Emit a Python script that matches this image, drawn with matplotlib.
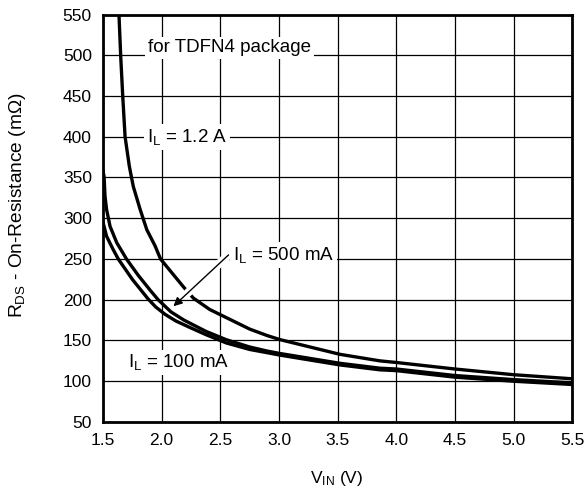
import matplotlib
matplotlib.use("Agg")
import matplotlib.pyplot as plt

plt.rcParams['font.family'] = ['Liberation Sans', 'DejaVu Sans']
plt.rcParams['mathtext.default'] = 'regular'

# V_IN (V) vs R_DS (mOhm)
v_1200ma = [1.633, 1.651, 1.668, 1.688, 1.724, 1.758, 1.816, 1.873, 1.944, 1.99, 2.07, 2.19,
            2.27, 2.41, 2.58, 2.75, 2.90, 3.01, 3.18, 3.35, 3.52, 3.69, 3.86, 4.0, 4.5, 5.0, 5.5]
r_1200ma = [560, 498, 450, 400, 364, 339, 311, 286, 266, 250, 236, 215,
            202, 188, 176, 164, 156, 151, 145, 139, 133, 129, 125, 123, 115, 108, 103]

v_500ma = [1.5, 1.509, 1.517, 1.53, 1.56, 1.617, 1.70, 1.80, 1.90, 1.97, 2.08, 2.19, 2.38,
           2.55, 2.75, 2.90, 3.01, 3.18, 3.35, 3.52, 3.69, 3.86, 4.0, 4.5, 5.0, 5.5]
r_500ma = [358, 351, 327, 311, 290, 270, 250, 230, 212, 200, 185, 175, 161,
           151, 142, 137, 134, 130, 126, 122, 119, 116, 115, 107, 102, 98]

v_100ma = [1.5, 1.53, 1.585, 1.63, 1.75, 1.884, 1.95, 2.03, 2.12, 2.24, 2.38, 2.55, 2.75,
           2.90, 3.01, 3.18, 3.35, 3.52, 3.69, 3.86, 4.0, 4.5, 5.0, 5.5]
r_100ma = [295, 278, 262, 250, 225, 201, 191, 182, 174, 166, 157, 147, 139,
           135, 132, 128, 124, 120, 117, 114, 113, 105, 100, 96]

x_ticks = [1.5, 2.0, 2.5, 3.0, 3.5, 4.0, 4.5, 5.0, 5.5]
y_ticks = [50, 100, 150, 200, 250, 300, 350, 400, 450, 500, 550]

fig = plt.figure(figsize=(5.87, 4.95), dpi=100)
ax = fig.add_axes([0.1755, 0.1475, 0.7995, 0.8232])

for v, r in ((v_1200ma, r_1200ma), (v_500ma, r_500ma), (v_100ma, r_100ma)):
    ax.plot(v, r, color='black', lw=2.4, zorder=3, solid_joinstyle='round')

ax.set_xlim(1.5, 5.5)
ax.set_ylim(50, 550)
ax.set_xticks(x_ticks)
ax.set_xticklabels(['%.1f' % t for t in x_ticks])
ax.set_yticks(y_ticks)
ax.tick_params(length=0, labelsize=12.5, pad=8)
ax.grid(True, color='black', lw=0.9)
ax.set_axisbelow(True)
for s in ax.spines.values():
    s.set_linewidth(2.0)

box = dict(facecolor='white', edgecolor='none', pad=2)
fs = 13.5
ax.text(1.875, 400, r'I$_L$ = 1.2 A', fontsize=fs, va='center', ha='left', bbox=box, zorder=4)
ax.text(1.885, 509, 'for TDFN4 package', fontsize=fs, va='center', ha='left', bbox=box, zorder=4)
ax.text(2.61, 255, r'I$_L$ = 500 mA', fontsize=fs, va='center', ha='left', bbox=box, zorder=4)
ax.text(1.71, 123, r'I$_L$ = 100 mA', fontsize=fs, va='center', ha='left', bbox=box, zorder=4)

# white gap where the pointer crosses the 1.2 A curve, then the pointer itself
ax.annotate('', xy=(2.10, 192), xytext=(2.57, 255),
            arrowprops=dict(arrowstyle='-', color='white', lw=6, shrinkA=0, shrinkB=14),
            zorder=5)
ax.annotate('', xy=(2.10, 192), xytext=(2.57, 255),
            arrowprops=dict(arrowstyle='-|>', color='black', lw=1.0, shrinkA=0, shrinkB=0,
                            mutation_scale=13),
            zorder=6)

fig.text(0.574, 1 - 479 / 495, r'V$_{IN}$ (V)', fontsize=12.5, ha='center', va='center')
fig.text(0.030, 1 - 205 / 495, r'R$_{DS}$ - On-Resistance (m$\Omega$)', fontsize=13.8,
         rotation=90, ha='center', va='center')

fig.savefig('out.png', dpi=100)
